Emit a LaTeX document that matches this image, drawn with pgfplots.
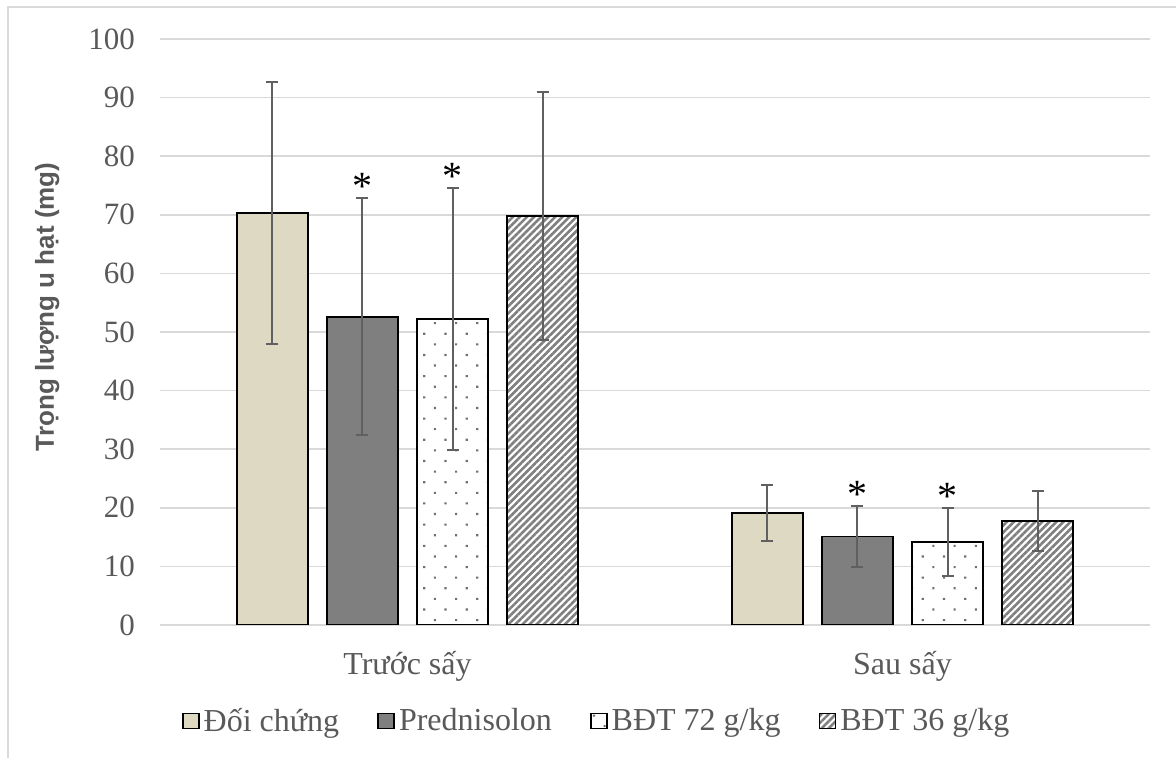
\documentclass[border=0pt]{standalone}
\usepackage{pgfplots}
\usepackage{pgfplotstable}
\pgfplotsset{compat=1.18}
\usepackage{fontspec}
\setmainfont{Liberation Serif}
\newfontfamily\arialfont{Liberation Sans}
\usetikzlibrary{patterns.meta}
\definecolor{tanc}{HTML}{DDD9C3}
\definecolor{predc}{HTML}{7F7F7F}
\definecolor{dotc}{HTML}{707070}
\definecolor{errc}{HTML}{606060}
\definecolor{txt}{HTML}{595959}
\definecolor{gridc}{HTML}{D9D9D9}
\definecolor{hatchc}{HTML}{808080}
% x = group (0: Truoc say, 1: Sau say), y = mean, e = SD
\pgfplotstableread{
x y e
0 70.3 22.3
1 19.1 4.85
}\tdc
\pgfplotstableread{
x y e
0 52.6 20.2
1 15.1 5.25
}\tpred
\pgfplotstableread{
x y e
0 52.2 22.4
1 14.2 5.8
}\tsev
\pgfplotstableread{
x y e
0 69.8 21.1
1 17.8 5.15
}\tthr
\pgfplotsset{
  common/.style={
    at={(80pt,66.5pt)}, anchor=south west,
    scale only axis, width=495pt, height=293pt,
    xmin=-0.5, xmax=1.5, ymin=0, ymax=100,
    ybar=9.25pt, bar width=0.1445,
  }
}
\begin{document}
\begin{tikzpicture}
\useasboundingbox (0,0) rectangle (588pt,379pt);
\draw[gridc, line width=0.75pt] (4pt,0) -- (4pt,375.5pt) -- (588pt,375.5pt);
\begin{axis}[
  common,
  xtick={0,1}, xticklabels={Trước sấy, Sau sấy},
  ytick={0,10,...,100},
  axis line style={draw=none},
  major tick length=0pt,
  ymajorgrids, grid style={gridc, line width=0.75pt},
  yticklabel style={font=\fontsize{15.5}{18}\selectfont, text=txt, xshift=-9pt},
  /pgf/number format/assume math mode=true,
  xticklabel style={font=\fontsize{16}{19}\selectfont, text=txt, yshift=-9.5pt},
  ylabel={\arialfont\bfseries Trọng lượng u hạt (mg)},
  ylabel style={at={(axis description cs:-0.114,0.543)}, anchor=center, font=\fontsize{13}{15}\selectfont, text=txt},
  legend style={at={(axis description cs:0.442,-0.1638)}, anchor=center, draw=none, fill=none, legend columns=4,
    font=\fontsize{16}{19}\selectfont, text=txt, inner sep=0pt,
    /tikz/every even column/.style={column sep=17pt}},
  legend cell align=left,
  mybar/.style={draw=black, line width=0.85pt,
    legend image code/.code={\draw[##1, line width=0.9pt] (0pt,-3.75pt) rectangle (8pt,3.75pt);},
    error bars/y dir=both, error bars/y explicit,
    error bars/error bar style={line width=1pt, errc},
    error bars/error mark options={rotate=90, mark size=3pt, line width=1pt, errc}},
]
\addplot[mybar, fill=tanc] table[x=x, y=y, y error=e] {\tdc};
\addlegendentry{Đối chứng}
\addplot[mybar, fill=predc] table[x=x, y=y, y error=e] {\tpred};
\addlegendentry{Prednisolon}
\addplot[mybar, preaction={fill=white}, pattern={Dots[radius=0.75pt, distance=7.5pt, angle=45]}, pattern color=dotc] table[x=x, y=y, y error=e] {\tsev};
\addlegendentry{BĐT 72 g/kg}
\addplot[mybar, preaction={fill=white}, pattern={Lines[angle=45, distance=2.5pt, line width=1.3pt]}, pattern color=hatchc] table[x=x, y=y, y error=e] {\tthr};
\addlegendentry{BĐT 36 g/kg}
\end{axis}
% significance marks, at the top of the error bars of series 2 and 3
\begin{axis}[
  common, hide axis,
  star/.style={draw=none, fill=none,
    nodes near coords={*},
    every node near coord/.append style={font=\fontsize{20}{22}\selectfont, text=black, inner sep=0pt, anchor=south, yshift=-1pt}},
]
\addplot[draw=none, fill=none] coordinates {(0,0) (1,0)};
\addplot[star] coordinates {(0,72.8) (1,20.35)};
\addplot[star] coordinates {(0,74.6) (1,20.0)};
\addplot[draw=none, fill=none] coordinates {(0,0) (1,0)};
\end{axis}
\end{tikzpicture}
\end{document}
